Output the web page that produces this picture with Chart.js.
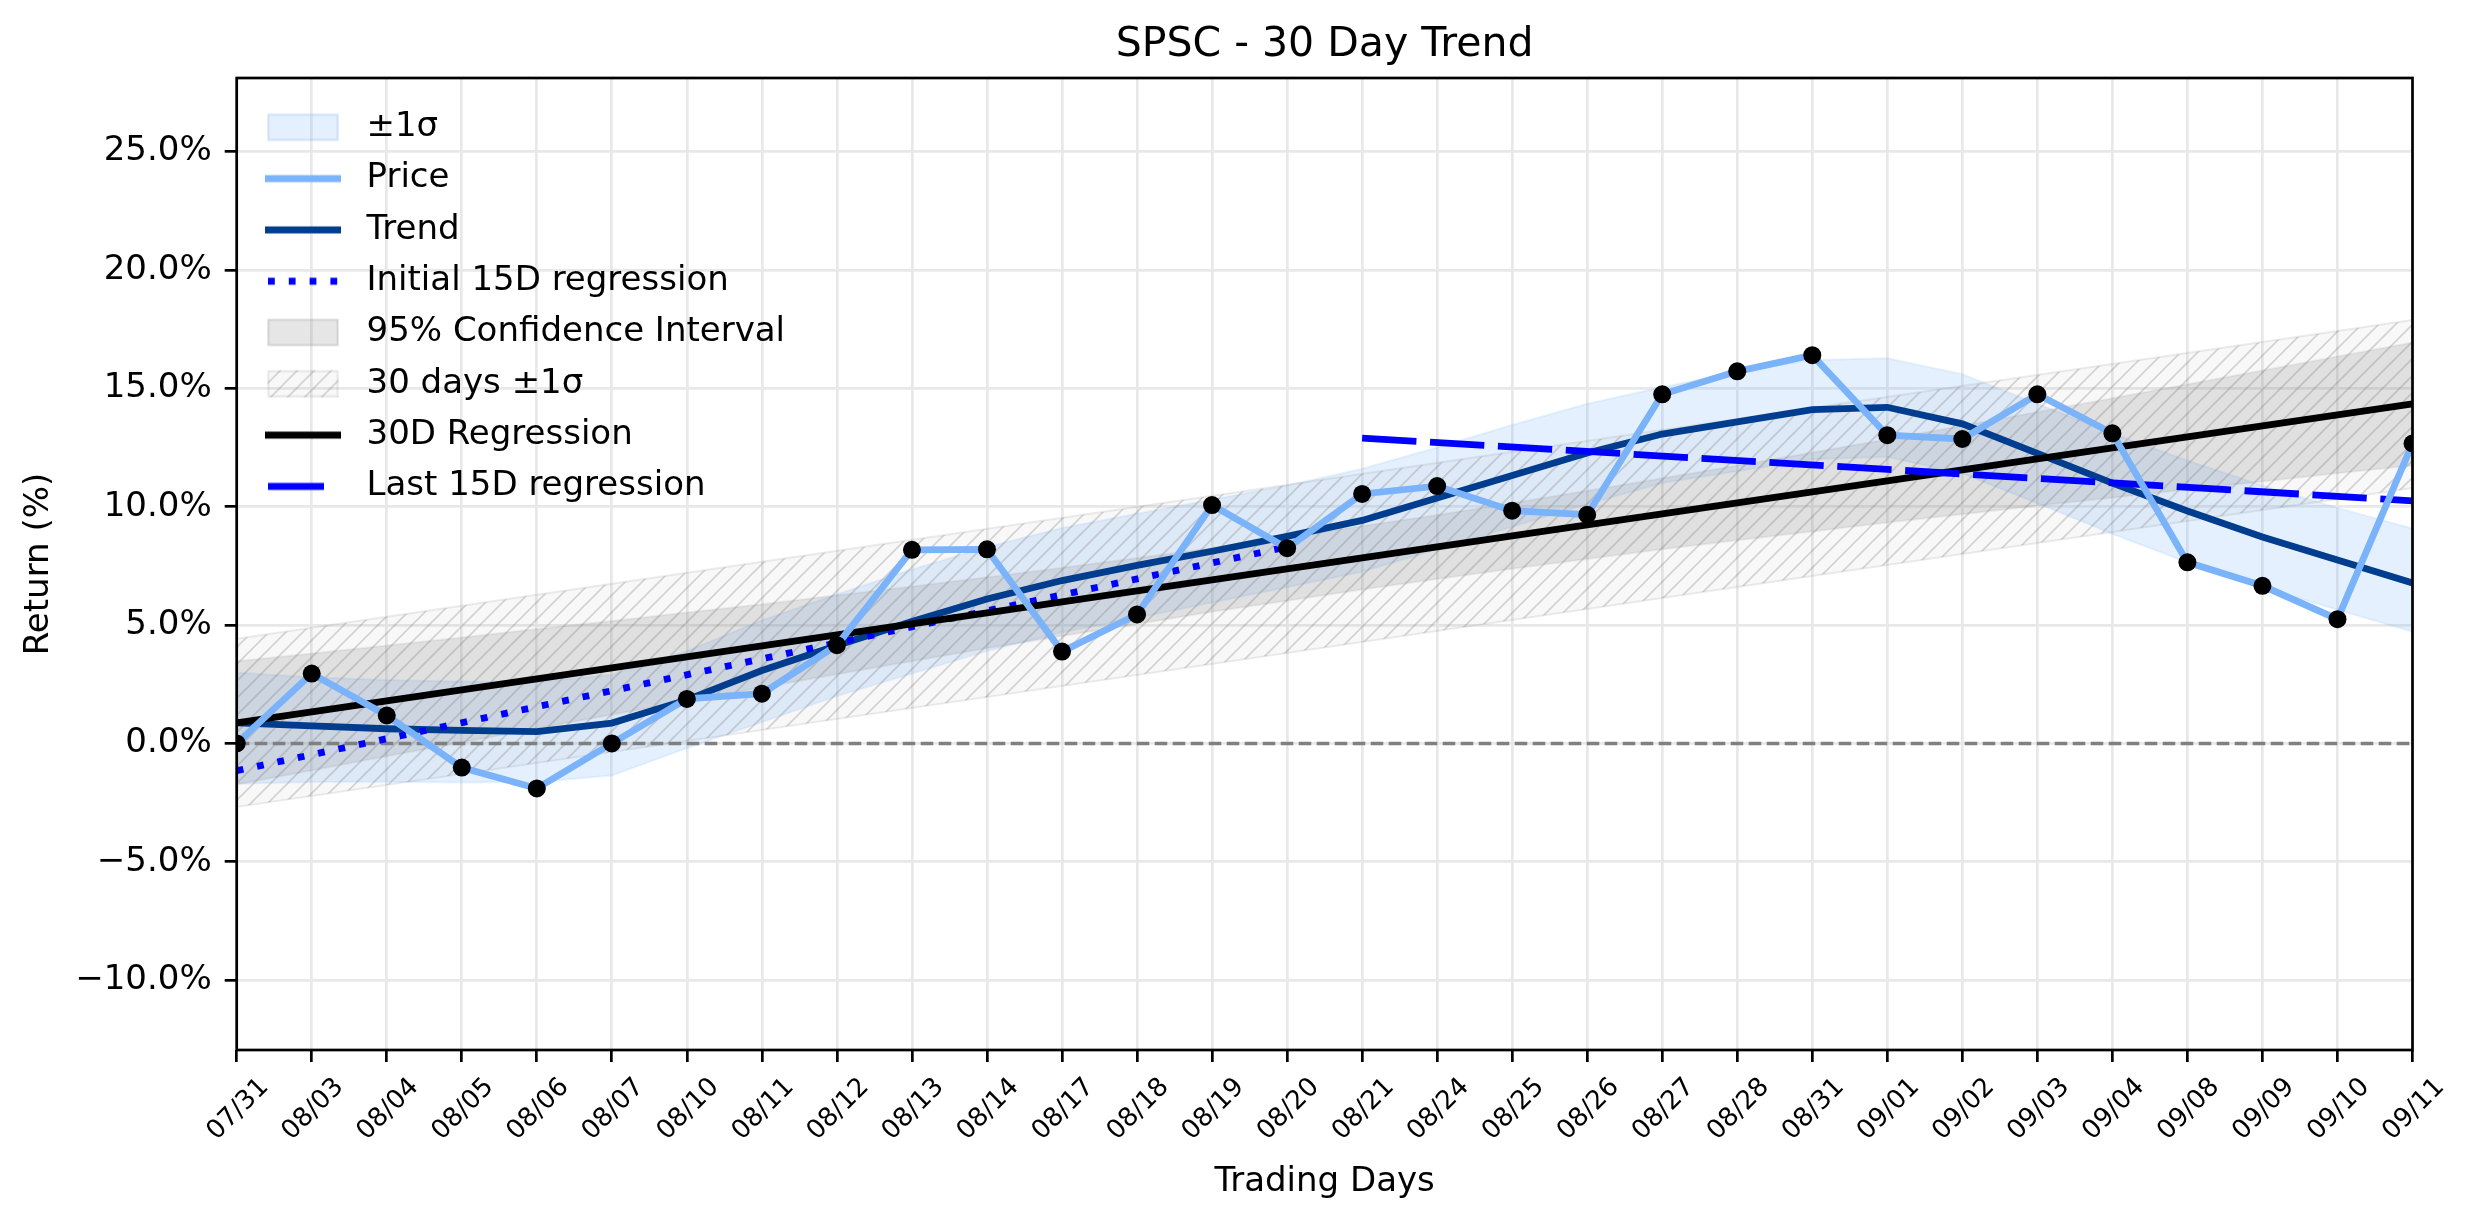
<!DOCTYPE html>
<html>
<head>
<meta charset="utf-8">
<title>SPSC - 30 Day Trend</title>
<script src="https://cdn.jsdelivr.net/npm/chart.js@4.4.1/dist/chart.umd.min.js"></script>
<style>
  html, body { margin: 0; padding: 0; background: #fff; }
  #wrap { width: 2474px; height: 1224px; }
</style>
</head>
<body>
<div id="wrap"><canvas id="trend" width="2474" height="1224"></canvas></div>
<script>
// trading days (x axis)
const days = ['07/31', '08/03', '08/04', '08/05', '08/06', '08/07', '08/10', '08/11', '08/12', '08/13',
  '08/14', '08/17', '08/18', '08/19', '08/20', '08/21', '08/24', '08/25', '08/26', '08/27',
  '08/28', '08/31', '09/01', '09/02', '09/03', '09/04', '09/08', '09/09', '09/10', '09/11'];

// return in %, one value per day
const price = [0.0, 2.95, 1.18, -1.02, -1.9, 0.0, 1.88, 2.1, 4.15, 8.18,
  8.2, 3.88, 5.45, 10.07, 8.25, 10.54, 10.87, 9.83, 9.66, 14.75,
  15.72, 16.4, 13.02, 12.86, 14.75, 13.1, 7.65, 6.66, 5.25, 12.67];
const trend = [0.87, 0.74, 0.62, 0.55, 0.5, 0.86, 1.84, 3.08, 4.14, 5.15,
  6.1, 6.88, 7.52, 8.12, 8.75, 9.42, 10.37, 11.32, 12.27, 13.07,
  13.58, 14.1, 14.2, 13.5, 12.25, 11.0, 9.82, 8.72, 7.75, 6.78];
const bandUpper = [3.0, 2.8, 2.68, 2.62, 2.6, 2.9, 3.9, 5.2, 6.3, 7.35,
  8.3, 9.1, 9.7, 10.3, 10.9, 11.6, 12.5, 13.45, 14.35, 15.05,
  15.7, 16.2, 16.27, 15.6, 14.35, 13.1, 11.95, 10.9, 9.95, 9.08];
const bandLower = [-1.7, -1.63, -1.62, -1.65, -1.63, -1.35, -0.2, 0.9, 2.0, 2.95,
  3.9, 4.7, 5.3, 5.95, 6.6, 7.25, 8.2, 9.15, 10.1, 11.0,
  11.5, 12.0, 12.1, 11.4, 10.15, 8.85, 7.65, 6.6, 5.65, 4.72];
const ciUpper = [3.47, 3.8, 4.14, 4.48, 4.83, 5.17, 5.53, 5.88, 6.26, 6.63,
  7.02, 7.42, 7.83, 8.26, 8.71, 9.18, 9.65, 10.16, 10.67, 11.2,
  11.74, 12.29, 12.85, 13.42, 14.0, 14.58, 15.17, 15.75, 16.35, 16.94];
const ciLower = [-1.73, -1.14, -0.54, 0.04, 0.63, 1.21, 1.79, 2.36, 2.92, 3.47,
  4.02, 4.54, 5.05, 5.56, 6.03, 6.5, 6.95, 7.38, 7.79, 8.2,
  8.58, 8.95, 9.33, 9.68, 10.04, 10.38, 10.73, 11.07, 11.41, 11.74];

// straight lines: start/end day index and value
const reg30X = [0, 29];
const reg30Y = [0.87, 14.34];
const sigma30Upper = [4.42, 17.89];
const sigma30Lower = [-2.68, 10.79];
const first15X = [0, 14];
const first15Y = [-1.15, 8.3];
const last15X = [15, 29];
const last15Y = [12.9, 10.25];
const zeroY = [0, 0];

const yTicks = [-10, -5, 0, 5, 10, 15, 20, 25];

const PRICE = '#7ab3fa';
const TREND = '#003d8f';
const BAND = 'rgba(122,179,250,0.2)';
const CI = 'rgba(128,128,128,0.2)';
const GRID = '#e8e8e8';

Chart.defaults.font.family = '"DejaVu Sans", sans-serif';
Chart.defaults.color = '#000';

const daily = ys => ys.map((y, i) => ({x: i, y: y}));
const pts = (xs, ys) => ys.map((y, i) => ({x: xs[i], y: y}));

function hatch(ctx) {
    const s = 17;
    const c = document.createElement('canvas');
    c.width = s;
    c.height = s;
    const g = c.getContext('2d');
    g.fillStyle = 'rgba(128,128,128,0.06)';
    g.fillRect(0, 0, s, s);
    g.strokeStyle = 'rgba(110,110,110,0.27)';
    g.lineWidth = 1.7;
    g.beginPath();
    g.moveTo(0, s); g.lineTo(s, 0);
    g.moveTo(-s / 2, s / 2); g.lineTo(s / 2, -s / 2);
    g.moveTo(s / 2, s * 1.5); g.lineTo(s * 1.5, s / 2);
    g.stroke();
    return ctx.createPattern(c, 'repeat');
}

const canvas = document.getElementById('trend');
const ctx = canvas.getContext('2d');
const hatchFill = hatch(ctx);

// legend handles, drawn as small images
function swatch(draw) {
    const c = document.createElement('canvas');
    c.width = 76;
    c.height = 30;
    draw(c.getContext('2d'));
    return c;
}
function lineSwatch(color, width, dash, from, to) {
    return swatch(g => {
        g.strokeStyle = color;
        g.lineWidth = width;
        g.setLineDash(dash);
        g.beginPath();
        g.moveTo(from, 15);
        g.lineTo(to, 15);
        g.stroke();
    });
}
function patchSwatch(fill, edge, hatched) {
    return swatch(g => {
        g.fillStyle = hatched ? hatch(g) : fill;
        g.fillRect(2.5, 1.5, 71, 27);
        g.strokeStyle = edge;
        g.lineWidth = 2;
        g.strokeRect(3.5, 2.5, 69, 25);
    });
}

const legendRows = [
    ['±1σ', patchSwatch(BAND, 'rgba(122,179,250,0.25)')],
    ['Price', lineSwatch(PRICE, 6.8, [], 0, 76)],
    ['Trend', lineSwatch(TREND, 6.8, [], 0, 76)],
    ['Initial 15D regression', lineSwatch('#0000ff', 6.8, [6.8, 14], 3, 76)],
    ['95% Confidence Interval', patchSwatch(CI, 'rgba(128,128,128,0.2)')],
    ['30 days ±1σ', patchSwatch(null, 'rgba(128,128,128,0.15)', true)],
    ['30D Regression', lineSwatch('#000000', 6.8, [], 0, 76)],
    ['Last 15D regression', lineSwatch('#0000ff', 6.8, [], 3, 59)]
];

// legend sits inside the plot, top-left
const legendNudge = {
    id: 'legendNudge',
    afterLayout(chart) {
        chart.legend.left = chart.chartArea.left + 2.5;
        chart.legend.top = chart.chartArea.top + 15;
    }
};

const frame = {
    id: 'frame',
    afterDatasetsDraw(chart) {
        const a = chart.chartArea;
        const c = chart.ctx;
        c.save();
        c.strokeStyle = '#000';
        c.lineWidth = 2.7;
        c.strokeRect(a.left, a.top, a.right - a.left, a.bottom - a.top);
        c.restore();
    }
};

new Chart(canvas, {
    type: 'line',
    data: {
        datasets: [
            {
                label: 'Price', data: daily(price), borderColor: PRICE, borderWidth: 6.8,
                pointRadius: 9, pointBackgroundColor: '#000', pointBorderWidth: 0
            },
            {
                label: 'Last 15D regression', data: pts(last15X, last15Y), borderColor: '#0000ff',
                borderWidth: 6.8, borderDash: [54.4, 13.6], pointRadius: 0
            },
            {
                label: '30D Regression', data: pts(reg30X, reg30Y), borderColor: '#000',
                borderWidth: 6.8, pointRadius: 0
            },
            {
                label: 'Initial 15D regression', data: pts(first15X, first15Y), borderColor: '#0000ff',
                borderWidth: 6.8, borderDash: [6.8, 14], pointRadius: 0
            },
            {
                label: 'Trend', data: daily(trend), borderColor: TREND, borderWidth: 6.8, pointRadius: 0
            },
            {
                label: 'zero', data: pts(reg30X, zeroY), borderColor: '#808080',
                borderWidth: 3.5, borderDash: [12.6, 5.4], pointRadius: 0
            },
            {
                label: '30 days ±1σ', data: pts(reg30X, sigma30Upper), borderColor: 'rgba(128,128,128,0.15)',
                borderWidth: 2, pointRadius: 0, fill: '+1', backgroundColor: hatchFill
            },
            {
                label: '30 days lower', data: pts(reg30X, sigma30Lower), borderColor: 'rgba(128,128,128,0.15)',
                borderWidth: 2, pointRadius: 0
            },
            {
                label: '95% Confidence Interval', data: daily(ciUpper), borderColor: 'rgba(128,128,128,0.12)',
                borderWidth: 2, pointRadius: 0, fill: '+1', backgroundColor: CI
            },
            {
                label: 'ci lower', data: daily(ciLower), borderColor: 'rgba(128,128,128,0.12)',
                borderWidth: 2, pointRadius: 0
            },
            {
                label: '±1σ', data: daily(bandUpper), borderColor: 'rgba(122,179,250,0.15)',
                borderWidth: 2, pointRadius: 0, fill: '+1', backgroundColor: BAND
            },
            {
                label: 'band lower', data: daily(bandLower), borderColor: 'rgba(122,179,250,0.15)',
                borderWidth: 2, pointRadius: 0
            }
        ]
    },
    options: {
        responsive: false,
        animation: false,
        devicePixelRatio: 1,
        events: [],
        layout: {
            padding: {left: 0, right: 61.5, top: 0, bottom: 0}
        },
        elements: {
            line: {tension: 0, fill: false}
        },
        scales: {
            x: {
                type: 'linear',
                min: 0,
                max: 29,
                afterFit(scale) { scale.height = 174; },
                grid: {color: GRID, lineWidth: 2.7, tickColor: '#000', tickWidth: 2.7, tickLength: 12},
                border: {display: false},
                ticks: {
                    stepSize: 1,
                    maxTicksLimit: 40,
                    autoSkip: false,
                    maxRotation: 45,
                    minRotation: 45,
                    labelOffset: 28,
                    padding: 10,
                    font: {size: 26},
                    callback: v => days[v]
                },
                title: {display: true, text: 'Trading Days', font: {size: 34}, padding: {top: 0, bottom: 21}}
            },
            y: {
                min: -12.95,
                max: 28.11,
                afterFit(scale) { scale.width = 236.7; },
                afterBuildTicks(scale) { scale.ticks = yTicks.map(v => ({value: v})); },
                grid: {color: GRID, lineWidth: 2.7, tickColor: '#000', tickWidth: 2.7, tickLength: 12},
                border: {display: false},
                ticks: {
                    padding: 13,
                    font: {size: 34},
                    callback: v => (v < 0 ? '\u2212' : '') + Math.abs(v).toFixed(1) + '%'
                },
                title: {display: true, text: 'Return (%)', font: {size: 34}, padding: {top: 19, bottom: 0}}
            }
        },
        plugins: {
            title: {
                display: true,
                fullSize: false,
                text: 'SPSC - 30 Day Trend',
                color: '#000',
                font: {size: 41, weight: 'normal'},
                padding: {top: 21, bottom: 7.8}
            },
            legend: {
                position: 'chartArea',
                align: 'start',
                labels: {
                    usePointStyle: true,
                    pointStyleWidth: 93,
                    boxHeight: 34,
                    padding: 17.3,
                    color: '#000',
                    font: {size: 34},
                    generateLabels: () => legendRows.map((row, i) => ({
                        text: row[0],
                        pointStyle: row[1],
                        fillStyle: 'rgba(0,0,0,0)',
                        strokeStyle: 'rgba(0,0,0,0)',
                        lineWidth: 0,
                        hidden: false,
                        index: i
                    }))
                }
            },
            tooltip: {enabled: false}
        }
    },
    plugins: [legendNudge, frame]
});
</script>
</body>
</html>
